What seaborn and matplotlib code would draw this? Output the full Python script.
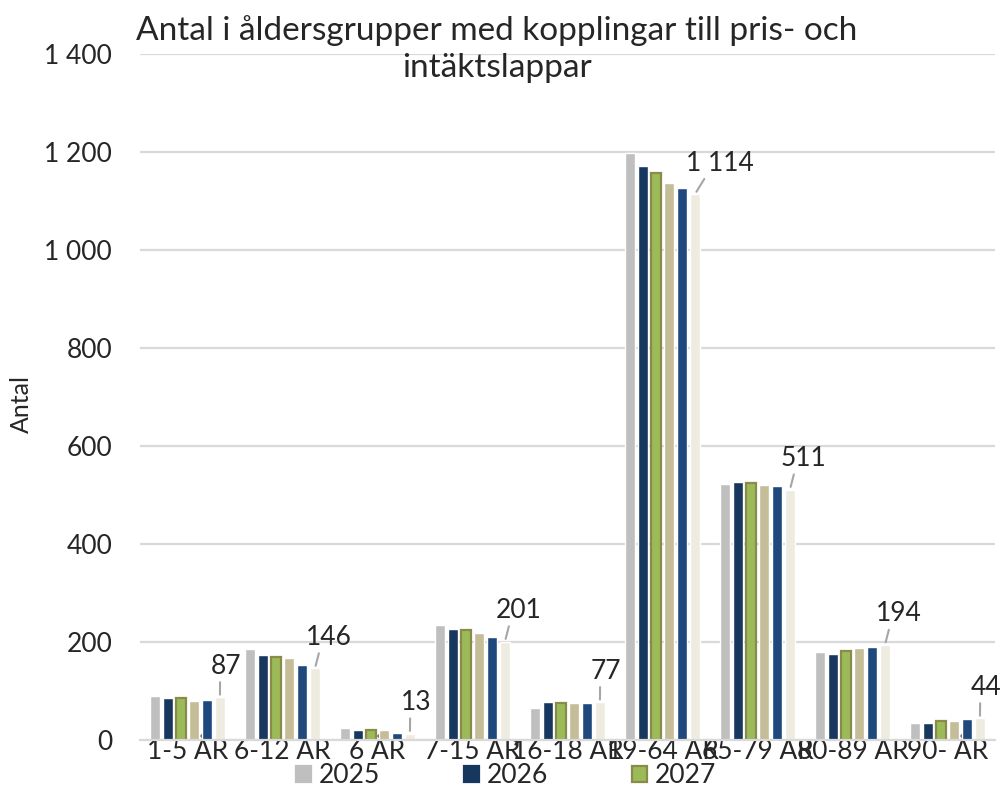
import numpy as np
import pandas as pd
import matplotlib.pyplot as plt
from matplotlib.ticker import FuncFormatter
import seaborn as sns

# Age groups and years
groups = ["1-5 ÅR", "6-12 ÅR", "6 ÅR", "7-15 ÅR", "16-18 ÅR",
          "19-64 ÅR", "65-79 ÅR", "80-89 ÅR", "90- ÅR"]
years = ["2025", "2026", "2027", "2028", "2029", "2030"]

# Values
v2025 = [90, 186, 25, 235, 65, 1198, 523, 180, 35]
v2026 = [86, 173, 21, 226, 77, 1171, 527, 176, 34]
v2027 = [85, 169, 21, 225, 76, 1157, 524, 182, 38]
v2028 = [80, 168, 21, 218, 75, 1137, 520, 188, 39]
v2029 = [82, 154, 14, 210, 75, 1126, 519, 190, 43]
v2030 = [87, 146, 13, 201, 77, 1114, 511, 194, 44]

colors = ["#BFBFBF", "#17375E", "#9BBB59", "#C4BD97", "#1F497D", "#EEECE1"]

series = [v2025, v2026, v2027, v2028, v2029, v2030]
df = pd.DataFrame({
    "grupp": groups * len(years),
    "år": np.repeat(years, len(groups)),
    "antal": np.concatenate(series),
})

sns.set_style("white")
plt.rcParams["font.family"] = ["Lato", "DejaVu Sans"]

fig = plt.figure(figsize=(10.02, 8.11), dpi=100)
ax = fig.add_axes([0.1397, 0.0875, 0.8533, 0.8459])

sns.barplot(data=df, x="grupp", y="antal", hue="år", palette=colors,
            saturation=1, width=0.82, gap=0.2, ax=ax, legend=False)

# olive border on the 2027 bars
for p in ax.containers[2]:
    p.set_edgecolor("#8A8A4A")
    p.set_linewidth(1.6)

ax.set_ylim(0, 1400)
ax.set_yticks(range(0, 1401, 200))
ax.yaxis.set_major_formatter(FuncFormatter(lambda v, _: f"{int(v):,}".replace(",", " ")))
ax.yaxis.grid(True, color="#D9D9D9", lw=1.6)
ax.set_axisbelow(True)
for s in ["left", "right", "top"]:
    ax.spines[s].set_visible(False)
ax.spines["bottom"].set_color("#D9D9D9")
ax.spines["bottom"].set_linewidth(1.6)
ax.tick_params(axis="y", length=0, pad=20, labelsize=19)
ax.tick_params(axis="x", length=0, pad=-1, labelsize=19)
ax.set_xlabel("")
ax.set_ylabel("Antal", fontsize=18)
ax.yaxis.set_label_coords(-0.125, 0.49)

# labels on the last series
for p, val in zip(ax.containers[-1], v2030):
    x = p.get_x() + p.get_width() / 2
    ax.annotate(f"{val:,}".replace(",", " "), xy=(x, val), xytext=(-9, 31),
                textcoords="offset pixels", ha="left", va="center", fontsize=19,
                arrowprops=dict(arrowstyle="-", color="#A6A6A6", lw=1.5,
                                shrinkA=0, shrinkB=2, relpos=(0.3, 0)))

fig.suptitle("Antal i åldersgrupper med kopplingar till pris- och\nintäktslappar",
             x=0.496, y=0.982, fontsize=24, linespacing=1.3)

# legend (only the first row is visible in the original)
handles = [plt.Rectangle((0, 0), 1, 1, facecolor=c,
                         edgecolor="#8A8A4A" if i == 2 else c, lw=1.6)
           for i, c in enumerate(colors[:3])]
fig.legend(handles, years[:3],
           loc="upper center", bbox_to_anchor=(0.505, 0.075), ncol=3,
           frameon=False, fontsize=19, handlelength=0.55, handleheight=0.55,
           handletextpad=0.3, columnspacing=3.2, borderpad=0)

fig.savefig("out.png", dpi=100)
